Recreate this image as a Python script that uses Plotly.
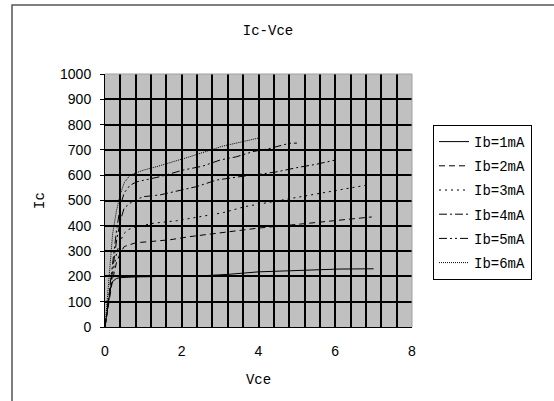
import plotly.graph_objects as go

# Data (Vce in V, Ic in mA)
ib1_x = [0, 0.05, 0.1, 0.15, 0.2, 0.3, 0.4, 0.55, 0.8, 1.28, None, 2.6, 3.2, 4.0, 5.1, 6.1, 7.0]
ib1_y = [0, 60, 120, 160, 180, 192, 195, 197, 198, 199, None, 203, 208, 218, 224, 229, 230]

ib2_x = [0, 0.1, 0.2, 0.3, 0.4, 0.5, 0.8, 1.2, 1.7, 2.2, 3.0, 4.0, 5.1, 5.6, 6.3, 6.95]
ib2_y = [0, 100, 190, 255, 292, 318, 333, 338, 345, 357, 371, 391, 407, 415, 427, 435]

ib3_x = [0, 0.1, 0.2, 0.3, 0.4, 0.5, 0.6, 0.8, 1.26, 1.87, 2.47, 3.08, 3.65, 4.3, 5.0, 5.6, 6.2, 6.86]
ib3_y = [0, 110, 210, 290, 340, 370, 385, 395, 410, 420, 436, 452, 476, 494, 512, 528, 545, 562]

ib4_x = [0, 0.1, 0.2, 0.3, 0.4, 0.5, 0.7, 0.99, 1.43, 1.95, 2.39, 2.91, 3.43, 3.6, 4.05, 4.5, 5.0, 5.5, 6.0]
ib4_y = [0, 120, 240, 340, 420, 470, 495, 515, 522, 541, 555, 581, 594, 596, 604, 614, 630, 643, 660]

ib5_x = [0, 0.1, 0.2, 0.3, 0.4, 0.5, 0.65, 0.83, 1.43, 2.03, 2.55, 3.0, 3.43, 3.85, 4.3, 4.55, 4.8, 5.0]
ib5_y = [0, 130, 260, 380, 480, 530, 560, 574, 594, 620, 636, 660, 673, 693, 706, 715, 726, 727]

ib6_x = [0, 0.05, 0.1, 0.15, 0.2, 0.3, 0.4, 0.5, 0.65, 1.0, 1.35, 2.21, 3.07, 3.78, 4.0]
ib6_y = [0, 100, 200, 290, 370, 460, 525, 570, 600, 620, 634, 673, 715, 739, 747]

names = ["Ib=1mA", "Ib=2mA", "Ib=3mA", "Ib=4mA", "Ib=5mA", "Ib=6mA"]
xs = [ib1_x, ib2_x, ib3_x, ib4_x, ib5_x, ib6_x]
ys = [ib1_y, ib2_y, ib3_y, ib4_y, ib5_y, ib6_y]
dashes = ["solid", "6px,4px", "2px,4px", "8px,3px,2px,3px", "8px,3px,2px,3px,2px,3px", "1px,1px"]

x_ticks = [0, 2, 4, 6, 8]

fig = go.Figure()
for i, (n, x, y, d) in enumerate(zip(names, xs, ys, dashes)):
    fig.add_trace(go.Scatter(
        x=x, y=y, name=n, mode="lines", legendgroup=n,
        connectgaps=False,
        line=dict(color="black", width=1, dash=d),
    ))

mono = "Liberation Mono, DejaVu Sans Mono, monospace"
sans = "Liberation Sans, Arial, sans-serif"

OFF = 0  # page body margin removed via post_script
W, H = 554, 401
PL, PR, PT, PB = 105, 412, 74, 327  # plot area on screen
pw, ph = PR - PL, PB - PT

fig.update_layout(
    width=W, height=H,
    margin=dict(l=PL - OFF, r=W - PR + OFF, t=PT - OFF, b=H - PB + OFF, autoexpand=False),
    paper_bgcolor="white",
    plot_bgcolor="#C0C0C0",
    title=dict(text="Ic-Vce", x=(268 - OFF) / W, xanchor="center", y=1 - (30 - OFF) / H, yanchor="middle",
               font=dict(family=mono, size=14, color="black")),
    xaxis=dict(
        range=[0, 8], tickvals=x_ticks, ticktext=[str(v) for v in x_ticks],
        showgrid=False, zeroline=False,
        showline=True, linecolor="black", linewidth=1,
        ticks="", ticklabelstandoff=11,
        tickfont=dict(family=sans, size=14, color="black"),
        title=dict(text="Vce", font=dict(family=mono, size=14, color="black"), standoff=16),
        minor=dict(dtick=0.4, showgrid=True, gridcolor="black", gridwidth=1.5, tick0=0),
    ),
    yaxis=dict(
        range=[0, 1000], dtick=100, tick0=0,
        showgrid=True, gridcolor="black", gridwidth=1.5,
        zeroline=False, showline=True, linecolor="black", linewidth=1,
        ticks="outside", ticklen=4, tickcolor="black", ticklabelstandoff=6,
        tickfont=dict(family=sans, size=14, color="black"),
        title=dict(text="Ic", font=dict(family=mono, size=14, color="black"), standoff=12),
    ),
    showlegend=True,
    legend=dict(
        x=(433 - PL) / pw, y=(PB - 125) / ph, xanchor="left", yanchor="top",
        bgcolor="white", bordercolor="black", borderwidth=1,
        font=dict(family=mono, size=14, color="black"),
        tracegroupgap=3, entrywidth=72, entrywidthmode="pixels",
    ),
)

# Outer chart border (paper coordinates)
fig.add_shape(type="rect", xref="paper", yref="paper",
              x0=(12 - PL) / pw, x1=(570 - PL) / pw,
              y0=(PB - 420) / ph, y1=(PB - 5) / ph,
              line=dict(color="#555555", width=1.5), layer="below")
# Light top/right border of plot area
fig.add_shape(type="line", xref="paper", yref="paper", x0=0, x1=1, y0=1, y1=1,
              line=dict(color="#A0A0A0", width=1))
fig.add_shape(type="line", xref="paper", yref="paper", x0=1, x1=1, y0=0, y1=1,
              line=dict(color="#A0A0A0", width=1))

fig.write_html("out.html", config={"displayModeBar": False},
               post_script="document.body.style.margin='0px';")
